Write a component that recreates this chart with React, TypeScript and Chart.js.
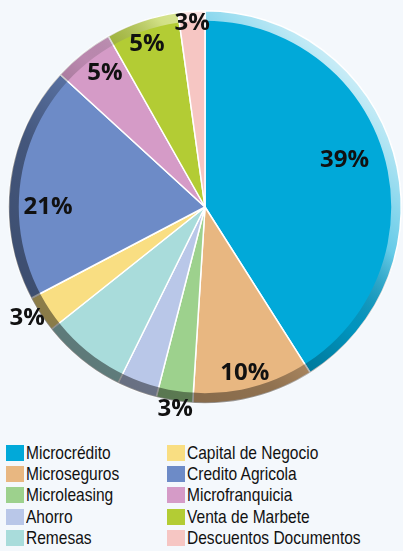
import React, { useEffect, useRef } from "react";
import { Chart, registerables } from "chart.js";
Chart.register(...registerables);

const categories = [
  "Microcrédito",
  "Microseguros",
  "Microleasing",
  "Ahorro",
  "Remesas",
  "Capital de Negocio",
  "Credito Agricola",
  "Microfranquicia",
  "Venta de Marbete",
  "Descuentos Documentos",
];
// slice sizes
const shares = [41, 10, 3, 3.3, 7, 3, 19.5, 5, 6, 2.2];
// printed percentage labels ("" = not labelled)
const pctLabels = ["39%", "10%", "3%", "", "", "3%", "21%", "5%", "5%", "3%"];
const colors = [
  "#01A9D9",
  "#E8B781",
  "#9DD18D",
  "#B9C7E8",
  "#A9DCDB",
  "#F9DE82",
  "#6D8BC7",
  "#D59BC7",
  "#B3CC34",
  "#F6C6C3",
];
// label distance from centre (fraction of radius) and angular shift (deg)
const labelRadius = [0.75, 0.87, 1.04, 0.8, 0.8, 1.07, 0.8, 0.85, 0.88, 0.94];
const labelShift = [-2.4, 0.9, -0.6, 0, 0, 1, -7.5, 1.7, -0.9, 0];

const rimPlugin = {
  id: "rim",
  afterDatasetsDraw(chart: any) {
    const meta = chart.getDatasetMeta(0);
    const arc0 = meta.data[0];
    if (!arc0) return;
    const { x, y, outerRadius } = arc0;
    const ctx = chart.ctx;
    const w = 10;
    ctx.save();
    ctx.beginPath();
    ctx.arc(x, y, outerRadius, 0, Math.PI * 2);
    ctx.arc(x, y, outerRadius - w, 0, Math.PI * 2, true);
    ctx.closePath();
    const d = outerRadius * 0.72;
    const g = ctx.createLinearGradient(x + d, y - d, x - d, y + d);
    g.addColorStop(0, "rgba(255,255,255,0.8)");
    g.addColorStop(0.25, "rgba(255,255,255,0.4)");
    g.addColorStop(0.45, "rgba(0,0,0,0.12)");
    g.addColorStop(0.7, "rgba(0,0,0,0.38)");
    g.addColorStop(1, "rgba(0,0,0,0.45)");
    ctx.fillStyle = g;
    ctx.fill();
    ctx.restore();
  },
};

const labelPlugin = {
  id: "pctLabels",
  afterDraw(chart: any) {
    const meta = chart.getDatasetMeta(0);
    const ctx = chart.ctx;
    ctx.save();
    ctx.font = "bold 24px 'Open Sans', sans-serif";
    ctx.fillStyle = "#111";
    ctx.textAlign = "center";
    ctx.textBaseline = "middle";
    meta.data.forEach((arc: any, i: number) => {
      const t = pctLabels[i];
      if (!t) return;
      const mid = (arc.startAngle + arc.endAngle) / 2 + (labelShift[i] * Math.PI) / 180;
      const r = arc.outerRadius * labelRadius[i];
      ctx.fillText(t, arc.x + Math.cos(mid) * r, arc.y + Math.sin(mid) * r);
    });
    ctx.restore();
  },
};

export default function App() {
  const ref = useRef<HTMLCanvasElement>(null);
  useEffect(() => {
    document.body.style.margin = "0";
    document.body.style.background = "#F4F8FC";
    const chart = new Chart(ref.current!, {
      type: "pie",
      data: {
        labels: categories,
        datasets: [
          {
            data: shares,
            backgroundColor: colors,
            borderColor: "#ffffff",
            borderWidth: 1.5,
          },
        ],
      },
      options: {
        responsive: false,
        animation: false,
        layout: { padding: { left: 8, right: 1, top: 8, bottom: 28 } },
        plugins: { legend: { display: false }, tooltip: { enabled: false } },
      },
      plugins: [rimPlugin, labelPlugin],
    });
    return () => chart.destroy();
  }, []);

  const legendCol = (start: number) => (
    <div style={{ position: "absolute", left: start === 0 ? 6 : 167, top: 442 }}>
      {categories.slice(start, start + 5).map((c, k) => (
        <div key={c} style={{ display: "flex", alignItems: "center", height: 21.3 }}>
          <span
            style={{
              display: "inline-block",
              width: 18,
              height: 16,
              background: colors[start + k],
              marginRight: 2,
              flex: "none",
            }}
          />
          <span
            style={{
              display: "inline-block",
              fontFamily: "'Liberation Sans', Arial, sans-serif",
              fontSize: 18.5,
              lineHeight: "20px",
              color: "#111",
              whiteSpace: "nowrap",
              transform: "scaleX(0.84)",
              transformOrigin: "left center",
            }}
          >
            {c}
          </span>
        </div>
      ))}
    </div>
  );

  return (
    <div style={{ position: "relative", width: 403, height: 551, overflow: "hidden", background: "#F4F8FC" }}>
      <canvas ref={ref} width={403} height={434} style={{ position: "absolute", left: 0, top: 0 }} />
      {legendCol(0)}
      {legendCol(5)}
    </div>
  );
}
